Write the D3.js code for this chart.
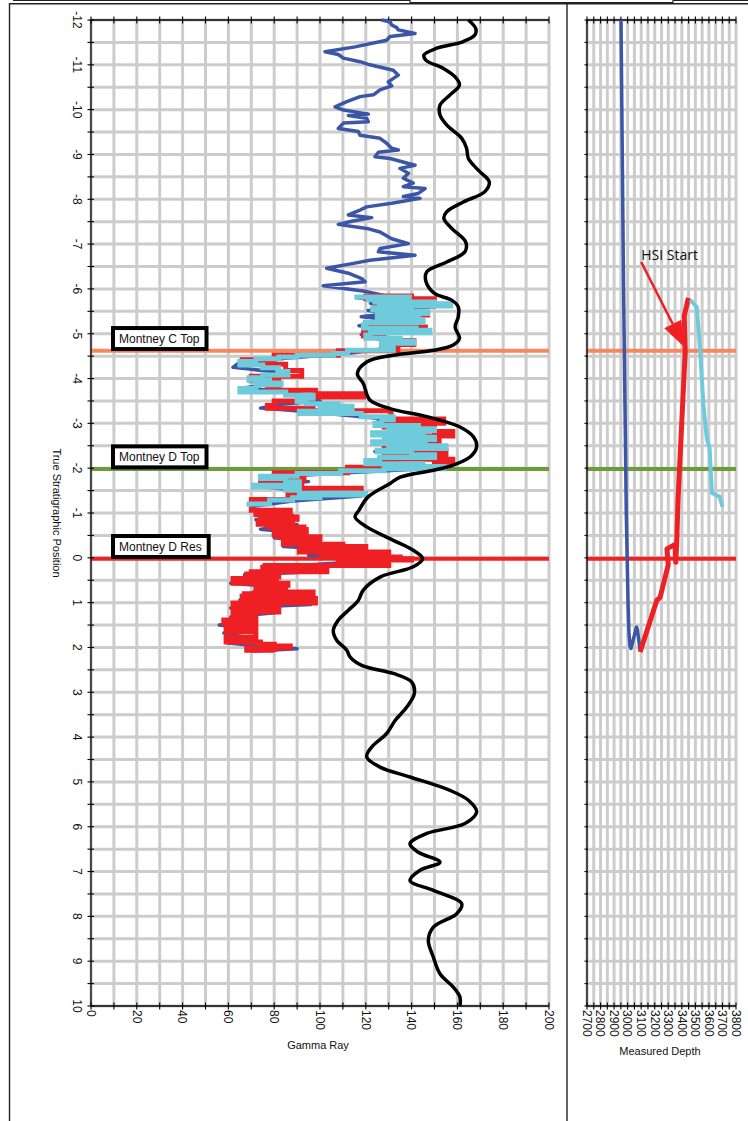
<!DOCTYPE html>
<html><head><meta charset="utf-8">
<script src="https://cdn.jsdelivr.net/npm/d3@7"></script>
<style>body{margin:0;background:#fff}svg{display:block}text{font-family:"Liberation Sans",Arial,sans-serif}</style>
</head><body><svg id="c" width="748" height="1121"></svg>
<script>
// ---------- DATA ----------
const grLabels = [0,20,40,60,80,100,120,140,160,180,200];
const tspLabels = [-12,-11,-10,-9,-8,-7,-6,-5,-4,-3,-2,-1,0,1,2,3,4,5,6,7,8,9,10];
const mdLabels = [2700,2800,2900,3000,3100,3200,3300,3400,3500,3600,3700,3800];

// type log (black) : [TSP, GR]
const typeLog = [[-12,164.8],[-11.81,168],[-11.67,167.7],[-11.52,162.6],[-11.37,151],[-11.22,145.4],[-11.1,146.3],[-10.92,153.9],[-10.73,159],[-10.55,160.9],[-10.33,156.8],[-10.1,152.4],[-9.88,152.4],[-9.66,155.3],[-9.36,161.9],[-9.14,164],[-8.91,164.8],[-8.65,169.1],[-8.39,173.9],[-8.17,172],[-7.94,162.6],[-7.72,155.3],[-7.57,154.1],[-7.35,157.5],[-7.05,163.6],[-6.83,163.3],[-6.6,155.3],[-6.38,146.6],[-6.16,146.3],[-5.9,150],[-5.75,157.5],[-5.6,160.4],[-5.38,160.4],[-5.15,159],[-4.9,160.9],[-4.75,158.2],[-4.63,149.5],[-4.52,132],[-4.37,120.4],[-4.11,116.3],[-3.89,118.9],[-3.52,121.8],[-3.33,130.6],[-3.15,146.6],[-2.92,161.1],[-2.7,167],[-2.48,168.4],[-2.25,165.5],[-2.07,158.2],[-1.96,150],[-1.8,135],[-1.66,130.6],[-1.36,121],[-1.06,117],[-0.91,115.3],[-0.69,120.4],[-0.39,132],[-0.17,140.7],[0.02,144.8],[0.2,140.7],[0.43,126.2],[0.72,118.9],[0.95,116.7],[1.17,112.4],[1.39,108],[1.62,105.8],[1.84,107.3],[2.06,111.7],[2.21,113.1],[2.4,118.2],[2.58,132],[2.77,140],[3.03,141.2],[3.33,137.9],[3.63,132.8],[3.92,129.1],[4.22,122.6],[4.44,120.4],[4.67,126.2],[4.89,139.3],[5.19,156.8],[5.41,164.8],[5.67,168.4],[5.93,163.3],[6.15,146.6],[6.38,139.3],[6.57,142.9],[6.79,152.4],[6.97,143.7],[7.2,139.3],[7.42,149.5],[7.72,161.9],[7.94,159.7],[8.24,149.5],[8.54,147.3],[8.91,149.5],[9.28,152.4],[9.58,158.2],[9.8,161.1],[10,161.1]];

// pilot GR (blue) : [TSP, GR]
const pilotGR = [[-12,126.9],[-11.96,130.6],[-11.89,131.3],[-11.83,133.5],[-11.78,134.2],[-11.7,141.5],[-11.63,130.6],[-11.55,129.1],[-11.4,115.3],[-11.29,102.2],[-11.23,108],[-11.15,110.2],[-11.07,117.5],[-11,121.8],[-10.88,132],[-10.77,134.2],[-10.62,129.8],[-10.53,131.3],[-10.44,126.2],[-10.33,123.3],[-10.29,117.5],[-10.18,111.7],[-10.06,106.6],[-9.99,110.2],[-9.9,121.1],[-9.87,112.4],[-9.81,120.4],[-9.73,121.1],[-9.7,110.2],[-9.58,108],[-9.51,116.7],[-9.43,117.5],[-9.36,126.2],[-9.25,129.1],[-9.14,131.3],[-9.1,134.2],[-9.05,125.5],[-8.95,124],[-8.91,130.6],[-8.76,141.5],[-8.69,134.9],[-8.58,138.6],[-8.47,136.4],[-8.36,140.7],[-8.28,136.4],[-8.24,145.9],[-8.13,142.9],[-8.06,136.4],[-8.02,143.7],[-7.91,131.3],[-7.83,120.4],[-7.76,117.5],[-7.65,112.4],[-7.59,122.6],[-7.51,113.9],[-7.44,108],[-7.35,120.4],[-7.27,126.2],[-7.12,131.3],[-7.01,138.6],[-6.9,126.2],[-6.83,125.5],[-6.75,141.5],[-6.64,121.8],[-6.57,114.6],[-6.46,102.9],[-6.35,112.4],[-6.23,118.2],[-6.16,119.7],[-6.07,101.4],[-5.94,120.4],[-5.83,129.8],
[-5.8,116],[-5.74,140],[-5.68,122],[-5.6,150],[-5.52,121],[-5.45,130],[-5.38,118],[-5.28,138],[-5.18,117],[-5.08,142],[-4.98,118],[-4.86,127],[-4.76,137],[-4.66,127],[-4.56,112],[-4.45,85],[-4.33,64],[-4.25,62],[-4.15,80],[-4.02,72],[-3.9,83],[-3.8,68],[-3.72,82],[-3.62,96],[-3.5,100],[-3.42,82],[-3.34,74],[-3.26,95],[-3.12,124],[-3.0,130],[-2.88,148],[-2.78,124],[-2.68,150],[-2.58,124],[-2.47,152],[-2.37,124],[-2.25,148],[-2.12,122],[-2.0,150],[-1.9,112],[-1.8,76],[-1.7,95],[-1.6,72],[-1.48,95],[-1.38,118],[-1.27,88],[-1.14,70],
[-1.05,72],[-0.95,88],[-0.85,72],[-0.74,90],[-0.64,74],[-0.55,92],[-0.45,80],[-0.35,100],[-0.25,84],[-0.15,118],[-0.06,95],[0.03,138],[0.12,106],[0.22,76],[0.3,101],[0.38,67],[0.47,80],[0.57,61],[0.66,84],[0.76,71],[0.85,96],[0.94,65],[1.04,96],[1.12,61],[1.22,81],[1.32,61],[1.42,70],[1.5,56],[1.6,72],[1.68,58],[1.8,70],[1.9,60],[1.98,75],[2.03,90],[2.08,70]];

// horizontal well GR (red) : [TSP, GR]
const lateralGR = [[-5.84,141],[-5.78,120],[-5.7,150],[-5.62,128],[-5.55,124],[-5.47,133],[-5.42,147],[-5.35,126],[-5.25,139],[-5.15,120],[-5.05,146],[-4.95,119],[-4.85,128],[-4.76,141],[-4.68,127],[-4.62,134],[-4.52,108],[-4.42,80],[-4.32,66],[-4.18,85],[-4.05,92],[-3.95,70],[-3.85,82],[-3.74,77],[-3.66,98],[-3.59,119],[-3.5,96],[-3.4,80],[-3.34,77],[-3.28,97],[-3.1,131],[-3.0,154],[-2.92,128],[-2.82,150],[-2.72,158],[-2.62,130],[-2.5,152],[-2.4,128],[-2.3,155],[-2.2,128],[-2.13,158],[-2.02,150],[-1.9,112],[-1.78,80],[-1.73,93],[-1.65,74],[-1.55,92],[-1.42,118],[-1.3,86],[-1.14,70],
[-1.06,70],[-1.02,87],[-0.96,72],[-0.91,74],[-0.86,90],[-0.8,88],[-0.75,73],[-0.69,77],[-0.63,93],[-0.58,94],[-0.52,80],[-0.47,81],[-0.42,100],[-0.37,97],[-0.3,84],[-0.25,110],[-0.21,120],[-0.17,92],[-0.13,91],[-0.1,130],[-0.06,100],[-0.02,103],[0.02,135],[0.05,140],[0.08,108],[0.12,125],[0.17,130],[0.21,76],[0.24,75],[0.28,100],[0.31,103],[0.36,70],[0.39,68],[0.43,82],[0.46,81],[0.52,62],[0.57,62],[0.61,86],[0.65,85],[0.7,72],[0.76,72],[0.8,97],[0.86,67],[0.91,66],[0.96,98],[1.01,98],[1.06,62],[1.1,62],[1.16,82],[1.21,82],[1.27,62],[1.32,62],[1.36,72],[1.39,72],[1.44,58],[1.47,58],[1.51,72],[1.54,72],[1.6,59],[1.65,59],[1.72,72],[1.77,72],[1.83,59],[1.88,59],[1.93,74],[1.97,80],[2.01,87],[2.06,68],[2.1,80]];

// HSI interval GR (cyan) : [TSP, GR]
const hsiGR = [[-5.82,115],[-5.81,139],[-5.76,121],[-5.71,124],[-5.67,150],[-5.62,157],[-5.58,126],[-5.53,123],[-5.49,140],[-5.45,147],[-5.41,125],[-5.36,125],[-5.3,143],[-5.25,145],[-5.2,120],[-5.13,119],[-5.08,142],[-5.02,148],[-4.97,122],[-4.9,120],[-4.84,135],[-4.79,141],[-4.74,127],[-4.68,128],[-4.63,132],[-4.56,112],[-4.52,106],[-4.48,90],[-4.44,82],[-4.38,72],[-4.3,65],[-4.24,75],[-4.16,82],[-4.08,86],[-4.02,75],[-3.96,69],[-3.9,78],[-3.86,83],[-3.78,72],[-3.7,65],[-3.63,85],[-3.56,97],[-3.49,90],[-3.44,94],[-3.38,108],[-3.33,114],[-3.27,100],[-3.22,91],[-3.15,118],[-3.08,132],[-3.0,127],[-2.95,124],[-2.88,143],[-2.84,150],[-2.79,130],[-2.74,123],[-2.69,145],[-2.64,150],[-2.59,128],[-2.55,123],[-2.5,146],[-2.44,155],[-2.4,130],[-2.36,125],[-2.3,140],[-2.24,150],[-2.17,126],[-2.1,120],[-2.04,145],[-1.99,154],[-1.94,128],[-1.88,109],[-1.82,90],[-1.77,74],[-1.7,85],[-1.62,91],[-1.58,71],[-1.51,85],[-1.44,91],[-1.4,120],[-1.34,100],[-1.29,88],[-1.2,78],[-1.14,69]];

// measured depth panel : [TSP, MD]
const pilotMD = [[-12,2951],[-6,2970],[-1,2990],[1.0,3003],[1.7,3010],[1.98,3018],[2.02,3025],[1.55,3065],[1.6,3072],[2.06,3092]];
const lateralMD = [[2.1,3092],[0.95,3215],[0.88,3240],[0.15,3300],[-0.2,3290],[-0.3,3350],[0.1,3355],[-0.3,3362],[-1.3,3372],[-4.6,3425],[-5.4,3418],[-5.8,3449]];
const hsiMD = [[-5.75,3462],[-5.6,3510],[-4.85,3530],[-3.4,3560],[-2.65,3585],[-2.45,3605],[-1.45,3622],[-1.36,3680],[-1.14,3700]];

// formation markers
const markerNames = ["Montney C Top","Montney D Top","Montney D Res"];
const markerTSP = [-4.62,-1.98,0.02];
const markerColors = ["#f7875e","#6f9a3c","#ee2326"];

// annotation
const hsiLabel = "HSI Start";
const hsiArrow = [[-6.6,3100],[-4.7,3420]];

// ---------- CHART ----------
const svg = d3.select("#c");
const yTop = 20, yBot = 1006;
const y = d3.scaleLinear().domain([-12,10]).range([yTop,yBot]);
const xL = d3.scaleLinear().domain([0,200]).range([91,549]);
const xR = d3.scaleLinear().domain([2700,3800]).range([587,736]);
const gridC = "#cccccc";

// frame
const frame = svg.append("g").attr("stroke","#222").attr("fill","none");
frame.append("path").attr("d","M13,0.5H410M673,0.5H748").attr("stroke-width",1.2);
frame.append("path").attr("d","M410,0V2.7H673V0").attr("stroke-width",1.2);
frame.append("path").attr("d","M9.5,1121V3.7H748").attr("stroke-width",1.4);
frame.append("path").attr("d","M567,3.7V1121").attr("stroke-width",1.4);

function panel(x, vStep){
  const g = svg.append("g");
  const [d0,d1] = x.domain();
  const vs = d3.range(d0, d1+1e-6, vStep);
  const hs = d3.range(-12, 10+1e-6, 0.5);
  g.selectAll(".gv").data(vs).join("line")
    .attr("x1",d=>x(d)).attr("x2",d=>x(d)).attr("y1",yTop).attr("y2",yBot)
    .attr("stroke",gridC).attr("stroke-width",3);
  g.selectAll(".gh").data(hs).join("line")
    .attr("x1",x(d0)).attr("x2",x(d1)).attr("y1",d=>y(d)).attr("y2",d=>y(d))
    .attr("stroke",gridC).attr("stroke-width",3);
  return g;
}
panel(xL, 10);
panel(xR, 50);

// marker lines
function markers(x){
  const [d0,d1] = x.domain();
  svg.append("g").selectAll("line").data(markerTSP).join("line")
    .attr("x1",x(d0)).attr("x2",x(d1)).attr("y1",d=>y(d)).attr("y2",d=>y(d))
    .attr("stroke",(d,i)=>markerColors[i]).attr("stroke-width",4);
}
markers(xL); markers(xR);

// axes
function axes(x, tickStep, leftTicks){
  const g = svg.append("g").attr("stroke","#000");
  const [d0,d1] = x.domain();
  const ts = d3.range(d0, d1+1e-6, tickStep);
  [yTop,yBot].forEach(yy=>{
    g.append("line").attr("x1",x(d0)).attr("x2",x(d1)).attr("y1",yy).attr("y2",yy).attr("stroke-width",1.3);
    g.selectAll(null).data(ts).join("line")
      .attr("x1",d=>x(d)).attr("x2",d=>x(d)).attr("y1",yy-3.5).attr("y2",yy+3.5).attr("stroke-width",1.1);
  });
  g.append("line").attr("x1",x(d0)).attr("x2",x(d0)).attr("y1",yTop).attr("y2",yBot).attr("stroke-width",1.3);
  g.selectAll(null).data(d3.range(-12,10+1e-6,0.5)).join("line")
    .attr("x1",x(d0)-(leftTicks?3.5:2.5)).attr("x2",x(d0)+(leftTicks?3:1)).attr("y1",d=>y(d)).attr("y2",d=>y(d)).attr("stroke-width",1.1);
}
axes(xL, 10, true);
axes(xR, 50, false);

// series
const lineL = d3.line().x(d=>xL(d[1])).y(d=>y(d[0]));
const stepL = d3.line().x(d=>xL(d[1])).y(d=>y(d[0])).curve(d3.curveStepAfter);
const lineR = d3.line().x(d=>xR(d[1])).y(d=>y(d[0]));
svg.append("path").datum(pilotGR).attr("d",lineL).attr("fill","none").attr("stroke","#3b56a6").attr("stroke-width",3.5).attr("stroke-linejoin","round");
svg.append("path").datum(lateralGR).attr("d",stepL).attr("fill","none").attr("stroke","#ee2024").attr("stroke-width",5);
svg.append("path").datum(hsiGR).attr("d",stepL).attr("fill","none").attr("stroke","#6dcbdc").attr("stroke-width",5);
svg.append("path").datum(typeLog).attr("d",d3.line().x(d=>xL(d[1])).y(d=>y(d[0])).curve(d3.curveCatmullRom)).attr("fill","none").attr("stroke","#000").attr("stroke-width",3.5);

svg.append("path").datum(pilotMD).attr("d",lineR).attr("fill","none").attr("stroke","#3b56a6").attr("stroke-width",3.5).attr("stroke-linejoin","round");
svg.append("path").datum(lateralMD).attr("d",lineR).attr("fill","none").attr("stroke","#ee2024").attr("stroke-width",5).attr("stroke-linejoin","round");
svg.append("path").datum(hsiMD).attr("d",lineR).attr("fill","none").attr("stroke","#6dcbdc").attr("stroke-width",4).attr("stroke-linejoin","round");

// HSI arrow
{
  const x1=xR(hsiArrow[0][1]), y1=y(hsiArrow[0][0]), x2=xR(hsiArrow[1][1]), y2=y(hsiArrow[1][0]);
  const dx=x2-x1, dy=y2-y1, L=Math.hypot(dx,dy), ux=dx/L, uy=dy/L, hl=26, hw=9.5;
  const bx=x2-ux*hl, by=y2-uy*hl;
  svg.append("line").attr("x1",x1).attr("y1",y1).attr("x2",bx).attr("y2",by).attr("stroke","#ee2024").attr("stroke-width",2.6);
  svg.append("path").attr("d",`M${x2},${y2}L${bx-uy*hw},${by+ux*hw}L${bx+uy*hw},${by-ux*hw}Z`).attr("fill","#ee2024");
  svg.append("text").attr("x",x1).attr("y",y1-2).attr("font-size",14).style("font-family","'Open Sans','Noto Sans',sans-serif").attr("fill","#111").text(hsiLabel);
}

// marker label boxes
markerNames.forEach((n,i)=>{
  const yy = y(markerTSP[i]);
  const g = svg.append("g");
  const r = g.append("rect").attr("x",113).attr("y",yy-22.7).attr("height",21).attr("fill","#fff").attr("stroke","#000").attr("stroke-width",4);
  const t = g.append("text").attr("x",119).attr("y",yy-7.6).attr("font-size",12).attr("fill","#111").text(n);
  r.attr("width", t.node().getComputedTextLength()+13);
});

// tick labels
svg.append("g").selectAll("text").data(tspLabels).join("text")
  .attr("transform",d=>`translate(77,${y(d)}) rotate(90)`).attr("text-anchor","middle").attr("dy","0.35em")
  .attr("font-size",12).attr("fill","#111").text(d=>d);
svg.append("g").selectAll("text").data(grLabels).join("text")
  .attr("transform",d=>`translate(${xL(d)},${yBot+4}) rotate(90)`).attr("dy","0.35em")
  .attr("font-size",12).attr("fill","#111").text(d=>d);
svg.append("g").selectAll("text").data(mdLabels).join("text")
  .attr("transform",d=>`translate(${xR(d)},${yBot+4}) rotate(90)`).attr("dy","0.35em")
  .attr("font-size",12).attr("fill","#111").text(d=>d);

// axis titles
svg.append("text").attr("transform",`translate(57,${(yTop+yBot)/2}) rotate(90)`).attr("text-anchor","middle").attr("dy","0.35em").attr("font-size",11).attr("fill","#111").text("True Stratigraphic Position");
svg.append("text").attr("x",318).attr("y",1049).attr("text-anchor","middle").attr("font-size",11).attr("fill","#111").text("Gamma Ray");
svg.append("text").attr("x",660).attr("y",1055).attr("text-anchor","middle").attr("font-size",11).attr("fill","#111").text("Measured Depth");
</script></body></html>
